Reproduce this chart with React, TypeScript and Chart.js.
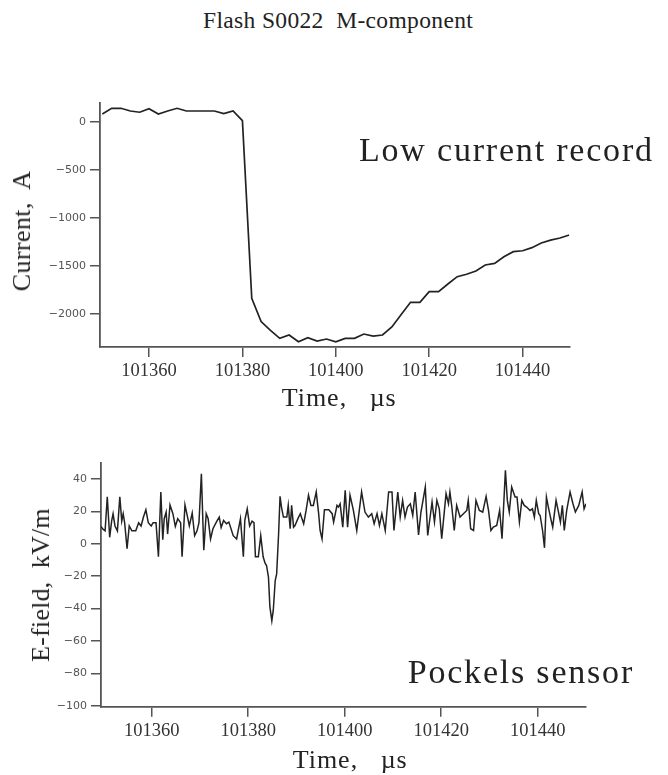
import React, { useEffect, useRef } from 'react';
import { Chart, registerables } from 'chart.js';

Chart.register(...registerables);

// ---------- data ----------
const TITLE = 'Flash S0022  M-component';
const TOP_NOTE = 'Low current record';
const BOTTOM_NOTE = 'Pockels sensor';
const X_TITLE = 'Time,   µs';
const CURRENT_TITLE = 'Current,  A';
const EFIELD_TITLE = 'E-field,  kV/m';

const TIME_TICKS = [101360, 101380, 101400, 101420, 101440];
const CURRENT_TICKS = [0, -500, -1000, -1500, -2000];
const EFIELD_TICKS = [40, 20, 0, -20, -40, -60, -80, -100];

const CURRENT_TIME = [
  101350, 101352, 101354, 101356, 101358, 101360, 101362, 101364, 101366, 101368,
  101370, 101372, 101374, 101376, 101378, 101380, 101382, 101384, 101386, 101388,
  101390, 101392, 101394, 101396, 101398, 101400, 101402, 101404, 101406, 101408,
  101410, 101412, 101414, 101416, 101418, 101420, 101422, 101424, 101426, 101428,
  101430, 101432, 101434, 101436, 101438, 101440, 101442, 101444, 101446, 101448,
  101450,
];
const CURRENT_A = [
  80, 139, 139, 111, 98, 135, 80, 111, 139, 111,
  111, 111, 111, 83, 111, 10, -1836, -2079, -2170, -2253,
  -2218, -2288, -2246, -2281, -2260, -2290, -2253, -2253, -2208, -2229,
  -2218, -2135, -2005, -1878, -1878, -1768, -1768, -1688, -1612, -1587,
  -1553, -1490, -1473, -1404, -1352, -1342, -1310, -1262, -1232, -1210,
  -1178,
];

const EFIELD_TIME = [
  101349.5, 101349.9, 101350.35, 101350.8, 101351.3, 101351.7, 101352.0, 101352.4, 101352.9, 101353.4,
  101353.8, 101354.1, 101354.4, 101354.9, 101355.35, 101355.9, 101356.7, 101357.3, 101357.8, 101358.3,
  101358.8, 101359.3, 101359.9, 101360.3, 101360.9, 101361.4, 101361.9, 101362.3, 101362.6, 101363.0,
  101363.3, 101363.8, 101364.4, 101364.9, 101365.4, 101366.0, 101366.3, 101366.9, 101367.5, 101367.8,
  101368.4, 101368.9, 101369.4, 101369.8, 101370.3, 101370.8, 101371.3, 101371.7, 101372.2, 101372.7,
  101373.4, 101374.0, 101374.4, 101374.9, 101375.5, 101376.0, 101376.9, 101377.6, 101378.4, 101379.0,
  101379.3, 101379.8, 101380.3, 101380.8, 101381.2, 101381.5, 101382.1, 101382.6, 101383.1, 101383.5,
  101383.8, 101384.2, 101384.5, 101384.9, 101385.2, 101385.6, 101385.9, 101386.3, 101386.6, 101386.9,
  101387.3, 101388.0, 101388.3, 101388.7, 101389.0, 101389.4, 101389.7, 101390.3, 101390.8, 101391.5,
  101392.0, 101392.5, 101393.0, 101393.5, 101394.1, 101394.6, 101394.9, 101395.3, 101395.8, 101396.7,
  101397.4, 101397.7, 101398.4, 101398.7, 101399.05, 101399.6, 101400.1, 101400.6, 101401.1, 101401.8,
  101402.5, 101403.5, 101404.2, 101404.9, 101405.6, 101406.1, 101406.7, 101407.2, 101407.7, 101408.4,
  101409.1, 101409.8, 101410.2, 101411.0, 101411.5, 101412.0, 101412.5, 101413.0, 101413.6, 101414.1,
  101414.6, 101415.3, 101415.8, 101416.7, 101417.2, 101418.1, 101418.6, 101419.1, 101419.6, 101420.1,
  101421.0, 101421.5, 101421.8, 101422.2, 101422.7, 101423.2, 101423.9, 101424.6, 101425.3, 101425.6,
  101426.1, 101426.7, 101427.2, 101427.9, 101428.6, 101429.3, 101429.8, 101430.3, 101430.8, 101431.5,
  101432.1, 101432.6, 101433.3, 101433.7, 101434.1, 101434.6, 101435.3, 101435.7, 101436.2, 101436.7,
  101437.2, 101437.7, 101438.4, 101438.9, 101439.3, 101439.7, 101440.2, 101440.5, 101441.0, 101441.4,
  101441.8, 101442.2, 101442.7, 101443.1, 101443.8, 101444.3, 101444.7, 101445.1, 101445.5, 101446.0,
  101446.7, 101447.3, 101447.8, 101448.5, 101449.2, 101449.6, 101450.0,
];
const EFIELD_KVM = [
  10.7, 9, 8, 29, 4, 14, 18.5, 11, 8, 29,
  14, 18.5, 13, -3, 11, 8, 8, 13, 11, 16.5,
  21, 13, 11, 13, 13, -8, 32, 2.5, 15.5, 19.6,
  6, 24, 18.6, 10.7, 15.5, 13, -8, 24, 15.5, 11,
  19, 5, 8, 13, 43.3, -4, 18.6, 15.5, 3, 9.3,
  13.4, 16.5, 10, 14.4, 12.4, 13.4, 5, 3, 15.5, -8,
  14.4, 21.6, 11, 14, 13, -8, -8, 5, -8, -12,
  -13.4, -20.6, -39, -47.5, -41, -22.7, -18.6, 6, 29.3, 22.7,
  16.5, 16.5, 23.7, 9.3, 23.7, 10.3, 11.3, 15.5, 18.6, 12.4,
  20.6, 30, 23.7, 23.7, 32, 18.6, 8.2, 3, 21, 21,
  18.6, 13.4, 23.7, 22.7, 24.7, 10.3, 33, 10.3, 30, 20.6,
  8.2, 32, 19.6, 16.5, 18.6, 12.4, 18.6, 11.3, 18.6, 8.2,
  32, 32, 8.2, 32, 16.5, 26.8, 16.5, 22.7, 24.7, 17.5,
  32, 5.5, 19.6, 35, 5.1, 25.8, 13.4, 26.8, 21.6, 3.1,
  31, 24.7, 32, 22.7, 8.2, 23.7, 16.5, 18.6, 20.6, 26.8,
  9.3, 8.2, 26.8, 20.6, 19.6, 29.3, 20.6, 8.2, 10.3, 11.3,
  20.6, 3.1, 45.4, 26.8, 19.6, 35, 28.9, 28.9, 13.4, 26.8,
  23.7, 22.7, 20.6, 21.6, 16.5, 26.8, 18.6, 17.5, 8.2, -2.5,
  28.9, 22.7, 15.5, 10.3, 26.8, 19.6, 13.4, 23.7, 8.2, 20.6,
  32, 24.7, 19.6, 23.7, 32, 21.6, 24.7,
];

// ---------- styling ----------
const SERIF = "'Liberation Serif', 'Times New Roman', serif";
const SANS = "'DejaVu Sans', sans-serif";
const AXIS = '#555555';
const INK = '#222222';

type Cfg = {
  times: number[];
  values: number[];
  xMin: number;
  xMax: number;
  yMin: number;
  yMax: number;
  yTicks: number[];
  yWidth: number;
  xHeight: number;
  padding: { left: number; right: number; top: number; bottom: number };
  lineWidth: number;
};

function fmtY(v: number) {
  return v < 0 ? '\u2212' + Math.abs(v) : String(v);
}

function makeChart(canvas: HTMLCanvasElement, c: Cfg) {
  return new Chart(canvas, {
    type: 'line',
    data: {
      datasets: [
        {
          data: c.times.map((t, i) => ({ x: t, y: c.values[i] })),
          borderColor: INK,
          borderWidth: c.lineWidth,
          pointRadius: 0,
          tension: 0,
          fill: false,
        },
      ],
    },
    options: {
      responsive: false,
      animation: false,
      devicePixelRatio: 1,
      layout: { padding: c.padding },
      plugins: {
        legend: { display: false },
        tooltip: { enabled: false },
        title: { display: false },
      },
      scales: {
        x: {
          type: 'linear',
          min: c.xMin,
          max: c.xMax,
          grid: { drawOnChartArea: false, drawTicks: true, tickLength: 10, color: AXIS, lineWidth: 1.5 },
          border: { display: true, color: AXIS, width: 1.8 },
          ticks: {
            font: { family: SERIF, size: 18.5 },
            color: '#333',
            padding: 3,
            maxRotation: 0,
            autoSkip: false,
            callback: (v: any) => String(v),
          },
          afterBuildTicks: (s: any) => {
            s.ticks = TIME_TICKS.map((v) => ({ value: v }));
          },
          afterFit: (s: any) => {
            s.height = c.xHeight;
          },
        },
        y: {
          type: 'linear',
          min: c.yMin,
          max: c.yMax,
          grid: { drawOnChartArea: false, drawTicks: true, tickLength: 10, color: AXIS, lineWidth: 1.5 },
          border: { display: true, color: AXIS, width: 1.8 },
          ticks: {
            font: { family: SANS, size: 11 },
            color: '#555',
            padding: 4,
            autoSkip: false,
            callback: (v: any) => fmtY(Number(v)),
          },
          afterBuildTicks: (s: any) => {
            s.ticks = c.yTicks.map((v) => ({ value: v }));
          },
          afterFit: (s: any) => {
            s.width = c.yWidth;
          },
        },
      },
    } as any,
  });
}

function Label(props: {
  text: string;
  left: number;
  top: number;
  size: number;
  spacing?: number;
  rotate?: boolean;
}) {
  const style: React.CSSProperties = {
    position: 'absolute',
    left: props.left,
    top: props.top,
    fontFamily: SERIF,
    fontSize: props.size,
    lineHeight: props.size + 'px',
    letterSpacing: (props.spacing || 0) + 'px',
    whiteSpace: 'pre',
    color: INK,
  };
  if (props.rotate) {
    style.transform = 'translate(-50%, -50%) rotate(-90deg)';
  }
  return <div style={style}>{props.text}</div>;
}

export default function App() {
  const topRef = useRef<HTMLCanvasElement>(null);
  const botRef = useRef<HTMLCanvasElement>(null);

  useEffect(() => {
    const charts = [
      makeChart(topRef.current!, {
        times: CURRENT_TIME,
        values: CURRENT_A,
        xMin: 101349.5,
        xMax: 101450,
        yMin: -2343,
        yMax: 194,
        yTicks: CURRENT_TICKS,
        yWidth: 100,
        xHeight: 73,
        padding: { left: 0, right: 98.7, top: 13, bottom: 0 },
        lineWidth: 1.7,
      }),
      makeChart(botRef.current!, {
        times: EFIELD_TIME,
        values: EFIELD_KVM,
        xMin: 101349.5,
        xMax: 101450,
        yMin: -100.6,
        yMax: 49.7,
        yTicks: EFIELD_TICKS,
        yWidth: 101,
        xHeight: 68.3,
        padding: { left: 0, right: 82, top: 13.3, bottom: 0 },
        lineWidth: 1.5,
      }),
    ];
    return () => charts.forEach((ch) => ch.destroy());
  }, []);

  return (
    <div
      style={{
        position: 'absolute',
        left: 0,
        top: 0,
        width: 668,
        height: 775,
        background: '#ffffff',
        overflow: 'hidden',
      }}
    >
      <canvas
        ref={topRef}
        width={668}
        height={330}
        style={{ position: 'absolute', left: 0, top: 90, width: 668, height: 330 }}
      />
      <canvas
        ref={botRef}
        width={668}
        height={325}
        style={{ position: 'absolute', left: 0, top: 450, width: 668, height: 325 }}
      />
      <Label text={TITLE} left={203} top={9} size={23.5} spacing={0.35} />
      <Label text={TOP_NOTE} left={359} top={133.2} size={34} spacing={1.8} />
      <Label text={BOTTOM_NOTE} left={407.7} top={654.8} size={34} spacing={1.8} />
      <Label text={X_TITLE} left={281.7} top={385} size={26} spacing={1} />
      <Label text={X_TITLE} left={292.7} top={746.5} size={26} spacing={1} />
      <Label text={CURRENT_TITLE} left={22} top={231} size={26} spacing={0.4} rotate />
      <Label text={EFIELD_TITLE} left={41} top={585} size={26} spacing={0.2} rotate />
    </div>
  );
}
